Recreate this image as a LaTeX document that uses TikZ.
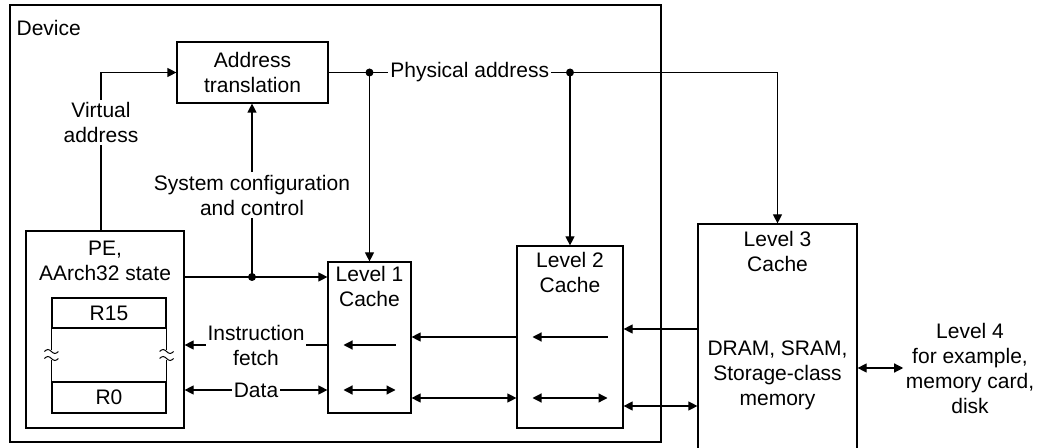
\documentclass[tikz,border=0pt]{standalone}
\usepackage{fontspec}
\setmainfont{Liberation Sans}
\usetikzlibrary{arrows.meta, positioning, calc}

\begin{document}
\begin{tikzpicture}[
  x=0.5pt, y=-0.5pt,
  font=\fontsize{10.5}{12.5}\selectfont,
  line width=0.6pt,
  box/.style={draw, align=center, inner sep=0pt},
  txt/.style={align=center, inner sep=1pt},
  lbl/.style={txt, fill=white},
  ar/.style={-{Triangle[length=4.5pt, width=4.5pt]}},
  dar/.style={{Triangle[length=4.5pt, width=4.5pt]}-{Triangle[length=4.5pt, width=4.5pt]}}
]
\useasboundingbox (0,0) rectangle (1047,448);

% boxes
\node[box, minimum width=325.5pt, minimum height=218.5pt] at (335.5,223.5) (device) {};
\node[txt, anchor=west] at (14,28) (device-lbl) {Device};
\node[box, minimum width=75.5pt, minimum height=30.5pt] at (252.5,72.5) (trans) {Address\\translation};
\node[box, minimum width=79pt, minimum height=98.5pt] at (105,329.5) (pe) {};
\node[txt] at (105,261) (pe-lbl) {PE,\\AArch32 state};
\node[box, minimum width=57pt, minimum height=15pt] at (109,313) (r15) {R15};
\node[box, minimum width=57pt, minimum height=15.5pt] at (109,397.5) (r0) {R0};
\node[box, minimum width=41.5pt, minimum height=75.5pt] at (369.5,337.5) (l1) {};
\node[txt] at (369.5,286) (l1-lbl) {Level 1\\Cache};
\node[box, minimum width=53pt, minimum height=91pt] at (570,337) (l2) {};
\node[txt] at (570,272) (l2-lbl) {Level 2\\Cache};
\node[box, minimum width=79.5pt, minimum height=113.5pt] at (777.5,337.5) (l3) {};
\node[txt] at (777.5,251.5) (l3-lbl) {Level 3\\Cache};
\node[txt] at (777.5,375) (l3-mem) {DRAM, SRAM,\\Storage-class\\memory};
\node[txt] at (970,368) (l4) {Level 4\\for example,\\memory card,\\disk};

% labels on the vertical lines
\node[txt] at (101,122.5) (va) {Virtual\\address};
\node[txt] at (252,195) (sys) {System configuration\\and control};

% broken register sides
\foreach \s in {west,east} {
  \draw (r15.south \s) -- ++(0,21);
  \draw (r0.north \s) -- ++(0,-21);
  \foreach \d in {-3.5,3.5}
    \draw[line width=0.5pt] ($(r15.south \s)!0.5!(r0.north \s)+(-7,\d)$)
      sin ++(3.5,-2) cos ++(3.5,2) sin ++(3.5,2) cos ++(3.5,-2);
}

% rows
\coordinate (cfg) at (252,277);
\coordinate (row-if) at (0,345);
\coordinate (row-data) at (0,390);
\coordinate (row-12) at (0,398);
\coordinate (row-3) at (0,329);
\coordinate (row-23) at (0,406);
\coordinate (pa1) at (l1.north |- trans.east);
\coordinate (pa2) at (l2.north |- trans.east);

% address paths
\draw (va.south |- pe.north) -- (va.south);
\draw[ar] (va.north) |- (trans.west);
\draw[ar] (cfg -| pe.east) -- (cfg -| l1.west);
\draw (cfg) -- (sys.south);
\draw[ar] (sys.north) -- (sys.north |- trans.south);
\draw[ar] (trans.east) -- (pa1) -- node[lbl] (pa) {Physical address} (pa2) -| (l3.north);
\draw[ar] (pa1) -- (l1.north);
\draw[ar] (pa2) -- (l2.north);
\foreach \p in {cfg,pa1,pa2} \fill (\p) circle (2pt);

% data paths
\draw[ar] (l1.west |- row-if) -- node[lbl] {Instruction\\fetch} (pe.east |- row-if);
\draw[dar] (pe.east |- row-data) -- node[lbl] {Data} (l1.west |- row-data);
\draw[ar] (l2.west) -- (l2.west -| l1.east);
\draw[dar] (l1.east |- row-12) -- (l2.west |- row-12);
\draw[ar] (l3.west |- row-3) -- (l2.east |- row-3);
\draw[dar] (l2.east |- row-23) -- (l3.west |- row-23);
\draw[dar] (l3.east |- l4) -- (l4.west);

% arrows inside the caches
\draw[ar] ($(l1.center |- row-if)+(26,0)$) -- ++(-52,0);
\draw[dar] ($(l1.center |- row-data)+(-26,0)$) -- ++(52,0);
\draw[ar] ($(l2.center)+(37.5,0)$) -- ++(-75,0);
\draw[dar] ($(l2.center |- row-12)+(-37.5,0)$) -- ++(75,0);
\end{tikzpicture}
\end{document}
